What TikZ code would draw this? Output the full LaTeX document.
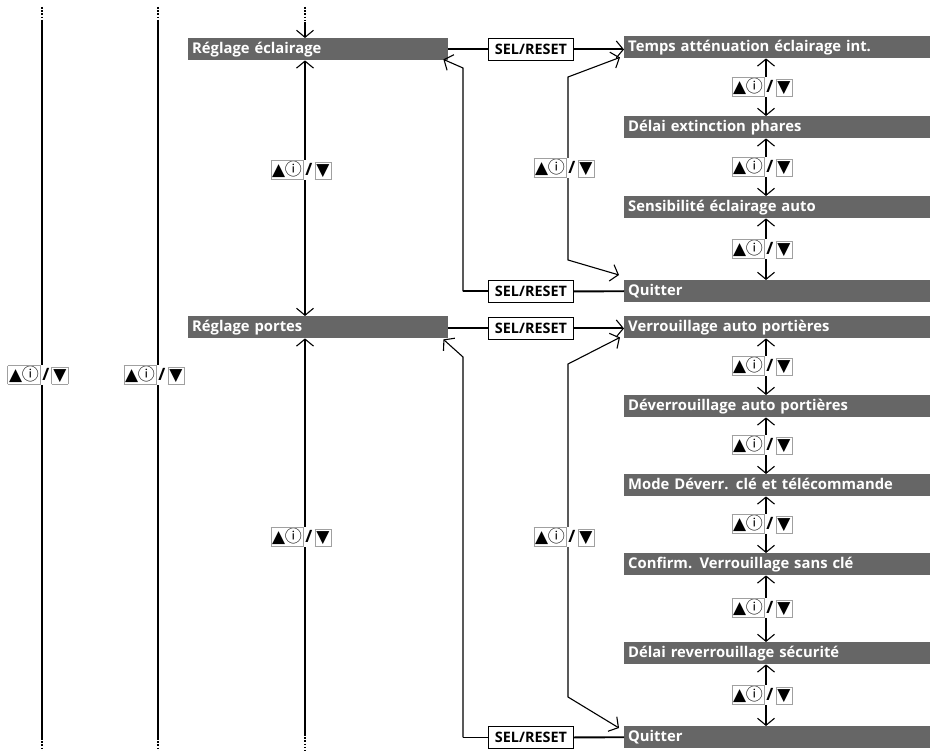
\documentclass[tikz,border=0pt]{standalone}
\usepackage{fontspec}
\setmainfont{Open Sans}
\newfontfamily\symf{DejaVu Sans}
\newfontfamily\cjkf{Noto Sans CJK SC}
\usetikzlibrary{arrows.meta}
\definecolor{boxgray}{HTML}{666666}
\definecolor{lblgray}{HTML}{A0A0A0}
\newcommand{\updn}{{\setlength{\fboxsep}{0pt}\setlength{\fboxrule}{0.8pt}%
\fcolorbox{lblgray}{white}{\makebox[31.4pt]{\rule[-3.6pt]{0pt}{16.4pt}\symf\fontsize{17}{17}\selectfont ▲\kern-0.5pt\cjkf\fontsize{17}{17}\selectfont\raisebox{-0.3pt}{ⓘ}}}%
\makebox[11pt]{\fontsize{17}{17}\selectfont\bfseries/}%
\fcolorbox{lblgray}{white}{\makebox[15.4pt]{\rule[-3.6pt]{0pt}{16.4pt}\symf\fontsize{17}{17}\selectfont ▼}}}}
\begin{document}
\begin{tikzpicture}[x=1pt,y=-1pt,
  >={Straight Barb[length=7pt,width=17pt,line width=1.1pt]},
  main/.style={line width=1.9pt},
  thinl/.style={line width=1.1pt},
  dotl/.style={line width=1.9pt, dash pattern=on 1.6pt off 1.6pt},
  gbox/.style={fill=boxgray, text=white, font=\fontsize{14.8}{16}\selectfont\bfseries, anchor=north west, inner xsep=4pt, inner ysep=0pt, minimum height=22pt, text height=11pt, text depth=3pt, align=left},
  gl/.style={gbox, text width=252pt},
  gr/.style={gbox, text width=298pt},
  sbox/.style={draw, line width=0.9pt, fill=white, font=\fontsize{14.4}{16}\selectfont\bfseries, minimum width=85pt, minimum height=22pt, anchor=north west, inner sep=0pt},
  lbl/.style={inner sep=0pt, fill=white}
]
\useasboundingbox (0,0) rectangle (937,751);
\fill[white] (0,0) rectangle (937,751);
% column x positions
\coordinate (x1) at (42,0);
\coordinate (x2) at (158,0);
\coordinate (x3) at (305,0);
\coordinate (xb) at (463,0);
\coordinate (xl) at (568,0);
\coordinate (xr) at (766,0);
% boxes
\node[gl] (re) at (188,38) {Réglage éclairage};
\node[gl] (rp) at (188,316) {Réglage portes};
\node[sbox] (s1) at (488,38) {SEL/RESET};
\node[sbox] (s2) at (488,280) {SEL/RESET};
\node[sbox] (s3) at (488,317) {SEL/RESET};
\node[sbox] (s4) at (488,726) {SEL/RESET};
\node[gr] (t1) at (624,36) {Temps atténuation éclairage int.};
\node[gr] (t2) at (624,116) {Délai extinction phares};
\node[gr] (t3) at (624,196) {Sensibilité éclairage auto};
\node[gr] (t4) at (624,280) {Quitter};
\node[gr] (d1) at (624,316) {Verrouillage auto portières};
\node[gr] (d2) at (624,395) {Déverrouillage auto portières};
\node[gr] (d3) at (624,474) {Mode Déverr. clé et télécommande};
\node[gr] (d4) at (624,553) {Confirm. Verrouillage sans clé};
\node[gr] (d5) at (624,642) {Délai reverrouillage sécurité};
\node[gr] (d6) at (624,726) {Quitter};
% end coordinates of the long columns
\coordinate (c1t) at (42,7);  \coordinate (c1a) at (42,20);
\coordinate (c1b) at (42,738); \coordinate (c1e) at (42,751);
\coordinate (c2t) at (158,7); \coordinate (c2a) at (158,20);
\coordinate (c2b) at (158,738); \coordinate (c2e) at (158,751);
\coordinate (c3t) at (305,7); \coordinate (c3a) at (305,22);
\coordinate (c3b) at (305,734); \coordinate (c3e) at (305,751);
% column 1 and 2
\draw[dotl] (c1t) -- (c1a); \draw[main] (c1a) -- (c1b); \draw[dotl] (c1b) -- (c1e);
\draw[dotl] (c2t) -- (c2a); \draw[main] (c2a) -- (c2b); \draw[dotl] (c2b) -- (c2e);
% column 3
\draw[dotl] (c3t) -- (c3a);
\draw[main,->] (c3a) -- (re.north -| x3);
\draw[main,<->] (re.south -| x3) -- (rp.north -| x3);
\draw[main,<-] (rp.south -| x3) -- (c3b);
\draw[dotl] (c3b) -- (c3e);
% forward SEL/RESET
\draw[main] (re.east |- s1.west) -- (s1.west);
\draw[main,->] (s1.east) -- (s1.east -| t1.west);
\draw[main] (rp.east |- s3.west) -- (s3.west);
\draw[main,->] (s3.east) -- (s3.east -| d1.west);
% Quitter back
\coordinate (k1) at (463,68);
\coordinate (k2) at (463,357);
\draw[main] (t4.west) -- (s2.east);
\draw[main] (s2.west) -- (s2.west -| xb);
\draw[thinl,->] (s2.west -| xb) -- (k1) -- ([xshift=-5pt,yshift=1pt]re.south east);
\draw[main] (d6.west) -- (s4.east);
\draw[main] (s4.west) -- (s4.west -| xb);
\draw[thinl,->] (s4.west -| xb) -- (k2) -- ([xshift=-5pt,yshift=-1pt]rp.south east);
% loops
\coordinate (m1) at (568,77); \coordinate (m2) at (568,260);
\coordinate (m3) at (568,364); \coordinate (m4) at (568,697);
\draw[thinl,<->] ([xshift=-4pt,yshift=1pt]t1.south west) -- (m1) -- (m2) -- ([xshift=-5pt,yshift=5pt]t4.north west);
\draw[thinl,<->] ([xshift=-4pt,yshift=1pt]d1.south west) -- (m3) -- (m4) -- ([xshift=-5pt,yshift=-2pt]d6.north west);
% right column
\draw[main,<->] (t1.south -| xr) -- (t2.north -| xr);
\draw[main,<->] (t2.south -| xr) -- (t3.north -| xr);
\draw[main,<->] (t3.south -| xr) -- (t4.north -| xr);
\draw[main,<->] (d1.south -| xr) -- (d2.north -| xr);
\draw[main,<->] (d2.south -| xr) -- (d3.north -| xr);
\draw[main,<->] (d3.south -| xr) -- (d4.north -| xr);
\draw[main,<->] (d4.south -| xr) -- (d5.north -| xr);
\draw[main,<->] (d5.south -| xr) -- (d6.north -| xr);
% labels
\node[lbl] (l1) at (38,375) {\updn};
\node[lbl] (l2) at (154,375) {\updn};
\node[lbl] (l3) at (301,170) {\updn};
\node[lbl] (l4) at (301,537) {\updn};
\node[lbl] (l5) at (564,168) {\updn};
\node[lbl] (l6) at (564,537) {\updn};
\node[lbl] (r1) at (762,87) {\updn};
\node[lbl] (r2) at (762,167) {\updn};
\node[lbl] (r3) at (762,249) {\updn};
\node[lbl] (r4) at (762,366) {\updn};
\node[lbl] (r5) at (762,445) {\updn};
\node[lbl] (r6) at (762,524) {\updn};
\node[lbl] (r7) at (762,608) {\updn};
\node[lbl] (r8) at (762,695) {\updn};
\end{tikzpicture}
\end{document}
